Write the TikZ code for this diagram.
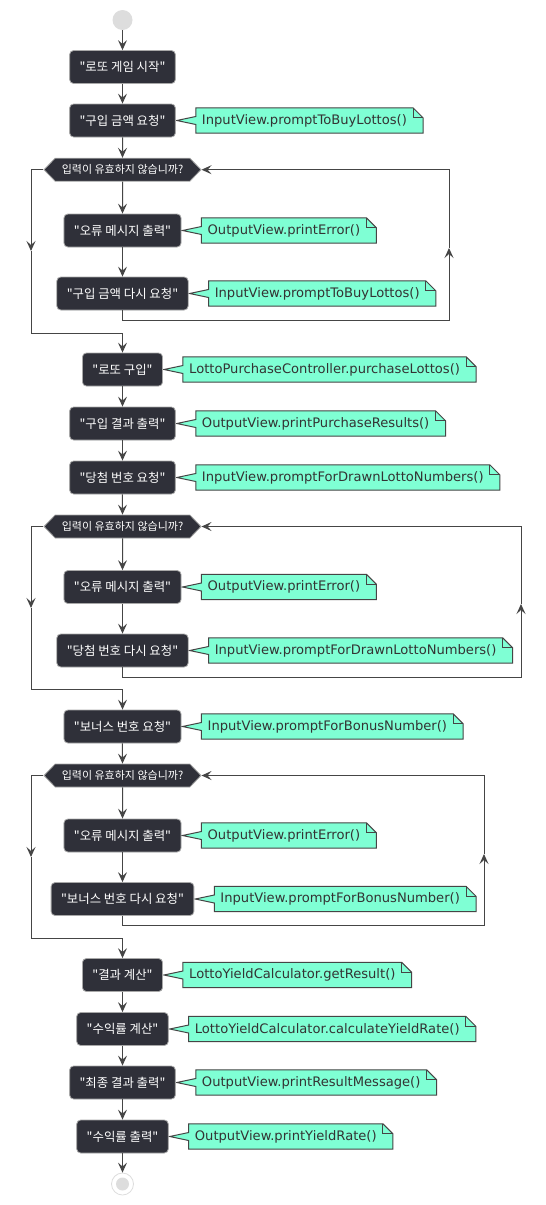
\documentclass[tikz,border=0pt]{standalone}
\usepackage{fontspec}
\setmainfont{DejaVu Sans}
\newfontfamily\kofont{Noto Sans CJK KR}
\usepackage{tikz}
\usetikzlibrary{positioning, arrows.meta, shapes.symbols, backgrounds}
\definecolor{boxfill}{HTML}{2F3039}
\definecolor{boxline}{HTML}{A8A8A8}
\definecolor{linecol}{HTML}{454545}
\definecolor{notefill}{HTML}{7FFFD4}
\definecolor{dotcol}{HTML}{DDDDDD}

\tikzset{
  act/.style={rectangle, rounded corners=4pt, fill=boxfill, draw=boxline, line width=0.8pt,
    text=white, font=\kofont\fontsize{12.4}{14}\selectfont, minimum height=33pt, inner xsep=10pt},
  cond/.style={signal, signal to=west and east, signal pointer angle=92, fill=boxfill,
    draw=boxline, line width=0.8pt, text=white, font=\kofont\fontsize{11}{13}\selectfont,
    minimum width=157pt, minimum height=23pt, inner xsep=2pt},
  note/.style={font=\fontsize{13.1}{15}\selectfont, text=black!80, minimum height=25pt,
    inner xsep=6pt, right=20pt of #1},
  noteline/.style={fill=notefill, draw=linecol, line width=1pt, line join=miter},
  line/.style={draw=linecol, line width=1pt},
  flow/.style={line, -{Stealth[length=10pt, width=9pt, inset=4pt]}}
}

\begin{document}
\begin{tikzpicture}[x=1pt, y=-1pt]
\path[use as bounding box] (0,0) rectangle (546,1205);

% Start
\node[circle, fill=dotcol, minimum size=20pt, inner sep=0pt] (s) at (122.5,20) {};

% Purchase
\node[act] (a1) at (122.5,67) {"로또 게임 시작"};
\node[act] (a2) at (122.5,120.5) {"구입 금액 요청"};
\node[cond] (d1) at (122.5,169.7) {입력이 유효하지 않습니까?};
\node[act] (a3) at (122.5,230.5) {"오류 메시지 출력"};
\node[act] (a4) at (122.5,293.5) {"구입 금액 다시 요청"};
\coordinate (j1) at (122.5,333);
\node[act] (a5) at (122.5,369.5) {"로또 구입"};
\node[act] (a6) at (122.5,423.5) {"구입 결과 출력"};

% Winning numbers
\node[act] (a7) at (122.5,477.5) {"당첨 번호 요청"};
\node[cond] (d2) at (122.5,526.5) {입력이 유효하지 않습니까?};
\node[act] (a8) at (122.5,587) {"오류 메시지 출력"};
\node[act] (a9) at (122.5,650.5) {"당첨 번호 다시 요청"};
\coordinate (j2) at (122.5,689);

% Bonus number
\node[act] (a10) at (122.5,726.5) {"보너스 번호 요청"};
\node[cond] (d3) at (122.5,775.5) {입력이 유효하지 않습니까?};
\node[act] (a11) at (122.5,835.5) {"오류 메시지 출력"};
\node[act] (a12) at (122.5,899) {"보너스 번호 다시 요청"};
\coordinate (j3) at (122.5,938);

% Result
\node[act] (a13) at (122.5,975) {"결과 계산"};
\node[act] (a14) at (122.5,1029) {"수익률 계산"};
\node[act] (a15) at (122.5,1082.5) {"최종 결과 출력"};
\node[act] (a16) at (122.5,1136.5) {"수익률 출력"};

% End
\node[circle, draw=dotcol, fill=white, line width=0.8pt, minimum size=22pt, inner sep=0pt] (e) at (122.5,1184) {};
\fill[dotcol] (e) circle (6.5pt);

% Notes
\node[note=a2] (n2) {InputView.promptToBuyLottos()};
\node[note=a3] (n3) {OutputView.printError()};
\node[note=a4] (n4) {InputView.promptToBuyLottos()};
\node[note=a5] (n5) {LottoPurchaseController.purchaseLottos()};
\node[note=a6] (n6) {OutputView.printPurchaseResults()};
\node[note=a7] (n7) {InputView.promptForDrawnLottoNumbers()};
\node[note=a8] (n8) {OutputView.printError()};
\node[note=a9] (n9) {InputView.promptForDrawnLottoNumbers()};
\node[note=a10] (n10) {InputView.promptForBonusNumber()};
\node[note=a11] (n11) {OutputView.printError()};
\node[note=a12] (n12) {InputView.promptForBonusNumber()};
\node[note=a13] (n13) {LottoYieldCalculator.getResult()};
\node[note=a14] (n14) {LottoYieldCalculator.calculateYieldRate()};
\node[note=a15] (n15) {OutputView.printResultMessage()};
\node[note=a16] (n16) {OutputView.printYieldRate()};

\begin{scope}[on background layer]
\fill[white] (0,0) rectangle (546,1205);
\foreach \i in {2,...,16}{
\path[noteline] (n\i.north west) -- (n\i.north east) -- ([xshift=10pt,yshift=-10pt]n\i.north east)
  -- ([xshift=10pt]n\i.south east) -- (n\i.south west) -- ([yshift=-4pt]n\i.west)
  -- ([xshift=1pt]a\i.east) -- ([yshift=4pt]n\i.west) -- cycle;
\draw[line] (n\i.north east) -- ([yshift=-10pt]n\i.north east) -- ([xshift=10pt,yshift=-10pt]n\i.north east);
}
\end{scope}

% Main flow
\foreach \p/\q in {s/a1, a1/a2, a2/d1, d1/a3, a3/a4, j1/a5, a5/a6, a6/a7, a7/d2, d2/a8, a8/a9,
  j2/a10, a10/d3, d3/a11, a11/a12, j3/a13, a13/a14, a14/a15, a15/a16, a16/e}
  \draw[flow] (\p) -- (\q);

% Loops
\foreach \d/\b/\j/\r/\lm/\rm in {d1/a4/j1/449/251/248, d2/a9/j2/521/608/604, d3/a12/j3/484/857/854}{
\draw[flow] (\d.west) -| (31,\lm);
\draw[line] (31,\lm) |- (\j);
\draw[flow] (\b.south) -- ++(0,10) -| (\r,\rm);
\draw[flow] (\r,\rm) |- (\d.east);
}
\end{tikzpicture}
\end{document}
